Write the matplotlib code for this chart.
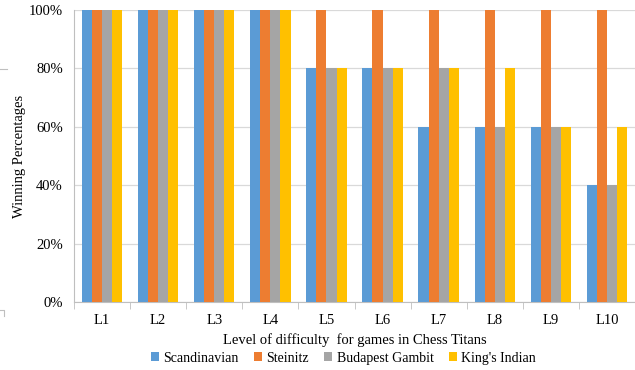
import numpy as np
import matplotlib.pyplot as plt
from matplotlib.lines import Line2D
from matplotlib.ticker import FixedLocator, PercentFormatter

plt.rcParams['font.family'] = ['Liberation Serif', 'DejaVu Serif']

# winning percentages per opening, for each difficulty level
levels = ['L1', 'L2', 'L3', 'L4', 'L5', 'L6', 'L7', 'L8', 'L9', 'L10']
scandinavian = [100, 100, 100, 100, 80, 80, 60, 60, 60, 40]
steinitz = [100, 100, 100, 100, 100, 100, 100, 100, 100, 100]
budapest = [100, 100, 100, 100, 80, 80, 80, 60, 60, 40]
kings_indian = [100, 100, 100, 100, 80, 80, 80, 80, 60, 60]

series = [
    ('Scandinavian', scandinavian, '#5B9BD5'),
    ('Steinitz', steinitz, '#ED7D31'),
    ('Budapest Gambit', budapest, '#A5A5A5'),
    ("King's Indian", kings_indian, '#FFC000'),
]

W, H = 635, 370
fig = plt.figure(figsize=(W / 100, H / 100), dpi=100)
ax = fig.add_axes([74 / W, 1 - 302 / H, 1 - 74 / W, 292 / H])

x = np.arange(len(levels))
w = 0.18
for i, (name, vals, col) in enumerate(series):
    ax.bar(x + (i - 1.5) * w, vals, w, color=col, label=name, zorder=3)

ax.set_xlim(-0.5, len(levels) - 0.5)
ax.set_ylim(0, 100)
ax.set_yticks(range(0, 101, 20))
ax.yaxis.set_major_formatter(PercentFormatter(decimals=0))
ax.set_xticks(x)
ax.set_xticklabels(levels)
ax.xaxis.set_minor_locator(FixedLocator(np.arange(-0.5, len(levels), 1)))
ax.tick_params(axis='x', which='major', length=0, pad=9, labelsize=10.5)
ax.tick_params(axis='x', which='minor', length=5, color='#BFBFBF')
ax.tick_params(axis='y', length=0, pad=8, labelsize=10.5)

ax.grid(axis='y', color='#D9D9D9', linewidth=0.9, zorder=0)
for side in ['top', 'right']:
    ax.spines[side].set_visible(False)
for side in ['left', 'bottom']:
    ax.spines[side].set_color('#BFBFBF')

ax.set_ylabel('Winning Percentages', fontsize=10.5)
ax.yaxis.set_label_coords(-0.086, 0.5)
ax.set_xlabel('Level of difficulty  for games in Chess Titans', fontsize=10.5, labelpad=4)

ax.legend(loc='center', bbox_to_anchor=(0.48, -0.192), ncol=4, frameon=False,
          prop={'family': 'Liberation Serif', 'size': 10},
          handlelength=0.6, handleheight=0.6, handletextpad=0.3,
          columnspacing=1.1, borderpad=0)

# bits of an outer frame along the left edge
frame = dict(color='#BFBFBF', linewidth=0.8)
fig.add_artist(Line2D([0, 7 / W], [1 - 69 / H, 1 - 69 / H], **frame))
fig.add_artist(Line2D([0, 4 / W, 4 / W], [1 - 310 / H, 1 - 310 / H, 1 - 316 / H], **frame))

fig.savefig('out.png', dpi=100)
